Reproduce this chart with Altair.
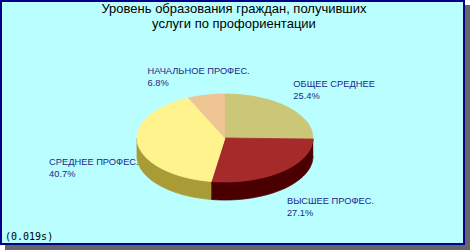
import altair as alt
import pandas as pd

# ---- data ----
categories = ["ОБЩЕЕ СРЕДНЕЕ", "ВЫСШЕЕ ПРОФЕС.", "СРЕДНЕЕ ПРОФЕС.", "НАЧАЛЬНОЕ ПРОФЕС."]
values = [25.4, 27.1, 40.7, 6.8]
top_colors = ["#CCC678", "#A52A2A", "#FFF38E", "#EEC493"]
side_colors = ["#857F3A", "#4A0000", "#A99C36", "#9A7A55"]
title_lines = ["Уровень образования граждан, получивших", "услуги по профориентации"]
timing_text = "(0.019s)"

# ---- layout ----
W, H = 470, 250
CX, CY, RX, RY = 225, 138, 88, 44
DEPTH = 18 / RY          # side depth in ellipse units
K = 60                   # samples per arc

rows = []
for i, (c, v, tc, sc) in enumerate(zip(categories, values, top_colors, side_colors)):
    rows.append(dict(order=i, name=c, value=v, part="top", seq=-1, col=tc))
    for s in range(K + 1):
        rows.append(dict(order=i, name=c, value=v, part="top", seq=s, col=tc))
    for s in range(2 * K + 2):
        rows.append(dict(order=i, name=c, value=v, part="side", seq=s, col=sc))
    rows.append(dict(order=i, name=c, value=v, part="label", seq=0, col=tc))
df = pd.DataFrame(rows)

xdom = [-CX / RX, (W - CX) / RX]
ydom = [(CY - H) / RY, CY / RY]
xs = alt.Scale(domain=xdom, range=[0, W])
ys = alt.Scale(domain=ydom, range=[H, 0])

base = alt.Chart(df).transform_window(
    cum="sum(value)", groupby=["part", "seq"], sort=[alt.SortField("order")],
    frame=[None, 0]
).transform_joinaggregate(
    total="sum(value)", groupby=["part", "seq"]
).transform_calculate(
    a0="2*PI*(datum.cum - datum.value)/datum.total",
    a1="2*PI*datum.cum/datum.total",
)

X = alt.X("px:Q", scale=xs, axis=None)
Y = alt.Y("py:Q", scale=ys, axis=None)

# side faces (front half only)
side = base.transform_filter(alt.datum.part == "side").transform_calculate(
    s0="max(datum.a0, PI/2)", s1="min(datum.a1, 3*PI/2)"
).transform_filter("datum.s1 > datum.s0").transform_calculate(
    t=f"datum.seq <= {K} ? datum.seq/{K} : ({2*K+1} - datum.seq)/{K}",
    ang="datum.s0 + datum.t*(datum.s1 - datum.s0)",
    px="sin(datum.ang)",
    py=f"cos(datum.ang) - (datum.seq > {K} ? {DEPTH} : 0)",
).mark_line(filled=True, strokeWidth=0.8, interpolate="linear").encode(
    x=X, y=Y,
    fill=alt.Fill("col:N", scale=None),
    stroke=alt.Stroke("col:N", scale=None),
    detail="name:N", order="seq:Q",
)

# top faces
top = base.transform_filter(alt.datum.part == "top").transform_calculate(
    ang="datum.a0 + max(datum.seq,0)/" + str(K) + "*(datum.a1 - datum.a0)",
    px="datum.seq < 0 ? 0 : sin(datum.ang)",
    py="datum.seq < 0 ? 0 : cos(datum.ang)",
).mark_line(filled=True, strokeWidth=0.8, interpolate="linear").encode(
    x=X, y=Y,
    fill=alt.Fill("col:N", scale=None),
    stroke=alt.Stroke("col:N", scale=None),
    detail="name:N", order="seq:Q",
)

# labels (left-aligned text blocks placed around the slice mid-angle)
lab = base.transform_filter(alt.datum.part == "label").transform_calculate(
    mid="(datum.a0 + datum.a1)/2",
    px="1.1*sin(datum.mid)",
    py=f"1.1*cos(datum.mid) - (cos(datum.mid) < 0 ? {DEPTH} : 0)",
    label="[datum.name, format(datum.value, '.1f') + '%']",
)
LC = "#1E1E8C"
FONT = "Liberation Sans"
lab_enc = dict(x=X, y=Y, text="label:N")
txt = dict(align="left", baseline="top", font=FONT, fontSize=9.3, color=LC, lineHeight=12)
lab_ur = lab.transform_filter("sin(datum.mid) > 0.3 && cos(datum.mid) >= 0").mark_text(
    dx=-1, dy=-24, **txt).encode(**lab_enc)
lab_lr = lab.transform_filter("sin(datum.mid) > 0.3 && cos(datum.mid) < 0").mark_text(
    dx=0, dy=4, **txt).encode(**lab_enc)
lab_l = lab.transform_filter("sin(datum.mid) < -0.3").mark_text(
    dx=-80, dy=-5, **txt).encode(**lab_enc)
lab_c = lab.transform_filter("abs(sin(datum.mid)) <= 0.3").mark_text(
    dx=-57, dy=-24, **txt).encode(**lab_enc)

# frame, shadow, title, timing
deco = pd.DataFrame({"k": [0]})
shadow = alt.Chart(deco).mark_rect(color="#666666").encode(
    x=alt.value(5), x2=alt.value(W), y=alt.value(5), y2=alt.value(H))
frame = alt.Chart(deco).mark_rect(fill="#B9FFFF", stroke="#00008B", strokeWidth=2).encode(
    x=alt.value(1), x2=alt.value(464), y=alt.value(1), y2=alt.value(244))
title = alt.Chart(pd.DataFrame({"t": [title_lines]})).mark_text(
    align="center", baseline="top", font=FONT, fontSize=13, color="#000000", lineHeight=15
).encode(x=alt.value(234), y=alt.value(3), text="t")
timing = alt.Chart(pd.DataFrame({"t": [timing_text]})).mark_text(
    align="left", baseline="alphabetic", font="DejaVu Sans Mono", fontSize=10, color="#000000"
).encode(x=alt.value(5), y=alt.value(240), text="t:N")

chart = alt.layer(
    shadow, frame, side, top, lab_ur, lab_lr, lab_l, lab_c, title, timing
).properties(
    width=W, height=H, padding=0, autosize=alt.AutoSizeParams(type="none"),
    background="#FFFFFF",
).configure_view(stroke=None)

chart.save("out.html", embed_options={"renderer": "svg", "actions": False})
